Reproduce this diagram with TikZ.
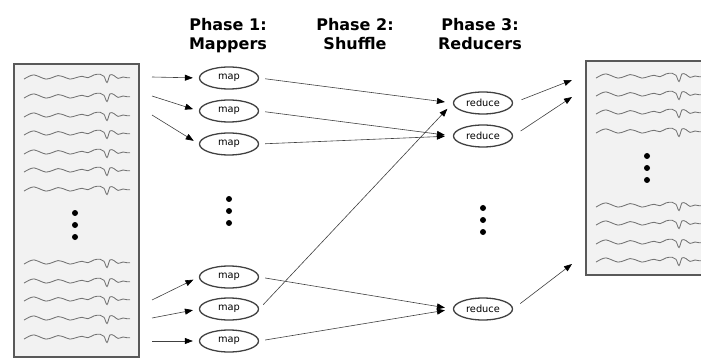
\documentclass[tikz,border=0pt]{standalone}
\usepackage{fontspec}
\setmainfont{DejaVu Sans}
\usetikzlibrary{arrows.meta,shapes.geometric}
\tikzset{
  wave/.pic={\draw[black!55,line width=0.85pt,yscale=1.4] plot[smooth,tension=0.55] coordinates {(0,1.5) (5,-0.5) (10,-1.5) (16,0) (22,1.5) (28,0.5) (34,-1) (40,0) (46,1.5) (52,0.5) (58,-0.5) (64,0.5) (70,-1.5) (76,-2) (80,-0.5) (83,4) (86,-1.5) (90,-1) (94,1) (99,0) (103,0.5) (106,0.5)};},
  ovalnode/.style={ellipse,draw=black!75,line width=1.3pt,minimum width=59pt,minimum height=22pt,inner sep=0pt,font=\fontsize{9.8}{11}\selectfont},
  docbox/.style={draw=black!65,line width=1.5pt,fill=black!5},
  heading/.style={font=\bfseries\fontsize{16}{19.5}\selectfont,align=center,anchor=north,inner sep=0pt},
  conn/.style={draw=black!75,line width=0.6pt,-{Triangle[length=8pt,width=6pt,color=black]}},
  vdot/.style={fill=black},
}
\begin{document}
\begin{tikzpicture}[x=1pt,y=-1pt]
\useasboundingbox (0,0) rectangle (701,358);

% headings
\node[heading] (h1) at (228,18) {Phase 1:\\Mappers};
\node[heading] (h2) at (355,18) {Phase 2:\\Shuffle};
\node[heading] (h3) at (480,18) {Phase 3:\\Reducers};

% input document
\draw[docbox] (14,64) rectangle (139,357);
\foreach \y in {77,96,115,133,152,170,189,262,281,299,318,337}
  \pic at (24,\y) {wave};
\foreach \y in {213,225,237} \fill[vdot] (75,\y) circle (3pt);

% output document
\draw[docbox] (586,61) rectangle (710,275);
\foreach \y in {76,94,112,131,205,223,242,260}
  \pic at (596,\y) {wave};
\foreach \y in {156,168,180} \fill[vdot] (647,\y) circle (3pt);

% mappers
\node[ovalnode] (m1) at (229,78) {map};
\node[ovalnode] (m2) at (229,111) {map};
\node[ovalnode] (m3) at (229,144) {map};
\node[ovalnode] (m4) at (229,277) {map};
\node[ovalnode] (m5) at (229,309) {map};
\node[ovalnode] (m6) at (229,341) {map};
\foreach \y in {199,211,223} \fill[vdot] (229,\y) circle (3pt);

% reducers
\node[ovalnode] (r1) at (483,103) {reduce};
\node[ovalnode] (r2) at (483,136) {reduce};
\node[ovalnode] (r3) at (483,309) {reduce};
\foreach \y in {208,220,232} \fill[vdot] (483,\y) circle (3pt);

% input arrow starts
\coordinate (a1) at (152,77);
\coordinate (a2) at (152,96);
\coordinate (a3) at (152,115);
\coordinate (a4) at (152,300);
\coordinate (a5) at (152,318);
\coordinate (a6) at (152,341);
\foreach \i in {1,...,6}
  \draw[conn,shorten >=6pt] (a\i) -- (m\i.west);

% shuffle
\draw[conn,shorten <=6pt,shorten >=8pt] (m1.east) -- (r1.west);
\draw[conn,shorten <=6pt,shorten >=8pt] (m2.east) -- (r2.west);
\draw[conn,shorten <=6pt,shorten >=8pt] (m3.east) -- (r2.west);
\draw[conn,shorten <=6pt,shorten >=8pt] (m4.east) -- (r3.west);
\draw[conn,shorten <=6pt,shorten >=8pt] (m5.east) -- (r1.west);
\draw[conn,shorten <=6pt,shorten >=8pt] (m6.east) -- (r3.west);

% outputs
\coordinate (o1) at (572,80);
\coordinate (o2) at (572,97);
\coordinate (o3) at (572,264);
\draw[conn,shorten <=9pt] (r1.east) -- (o1);
\draw[conn,shorten <=9pt] (r2.east) -- (o2);
\draw[conn,shorten <=9pt] (r3.east) -- (o3);
\end{tikzpicture}
\end{document}
